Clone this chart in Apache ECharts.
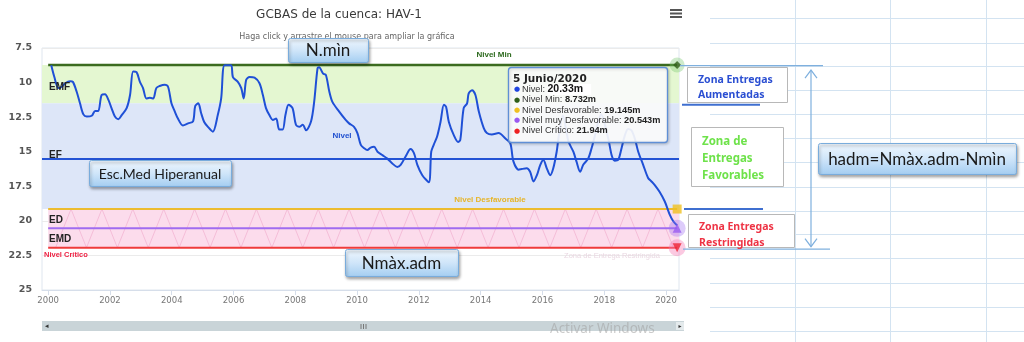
<!DOCTYPE html>
<html><head><meta charset="utf-8">
<script src="https://cdn.jsdelivr.net/npm/echarts@6/dist/echarts.min.js"></script>
<style>html,body{margin:0;padding:0;background:#fff}#c{width:1024px;height:342px}</style>
</head><body><div id="c"></div>
<script>
// ---- data ----
const nivelYears = [2000.10,2000.20,2000.33,2000.44,2000.55,2000.71,2000.80,2000.92,2001.03,2001.14,2001.25,2001.41,2001.52,2001.62,2001.73,2001.84,2001.95,
 2002.05,2002.16,2002.27,2002.38,2002.54,2002.65,2002.75,2002.86,2002.97,2003.07,2003.18,2003.29,2003.40,2003.50,2003.61,2003.77,2003.88,2003.99,
 2004.10,2004.20,2004.36,2004.53,2004.69,2004.76,2004.86,2004.95,2005.05,2005.17,2005.33,2005.49,2005.60,2005.71,2005.92,2005.98,
 2006.14,2006.25,2006.33,2006.41,2006.52,2006.68,2006.84,2006.95,2007.05,2007.16,2007.27,2007.38,2007.48,2007.59,2007.68,2007.78,2007.91,
 2008.02,2008.13,2008.24,2008.35,2008.51,2008.61,2008.72,2008.77,2008.90,2008.99,2009.10,2009.20,2009.42,2009.63,2009.74,2009.90,
 2010.01,2010.12,2010.23,2010.33,2010.44,2010.55,2010.66,2010.82,2010.98,2011.14,2011.30,2011.41,2011.57,2011.73,2011.84,2011.95,
 2012.11,2012.32,2012.40,2012.48,2012.59,2012.70,2012.81,2012.88,2012.97,2013.13,2013.27,2013.34,2013.45,2013.56,2013.61,2013.72,2013.83,2013.94,
 2014.10,2014.20,2014.36,2014.58,2014.80,2014.96,2015.06,2015.23,2015.33,2015.49,2015.60,2015.71,2015.82,2015.93,
 2016.03,2016.14,2016.25,2016.35,2016.46,2016.52,2016.66,2016.84,2017.00,2017.10,2017.22,2017.32,2017.48,2017.59,2017.68,2017.90,
 2018.13,2018.24,2018.34,2018.45,2018.56,2018.67,2018.77,2018.88,2018.99,2019.10,2019.26,2019.42,2019.53,2019.63,2019.79,2019.96,
 2020.12,2020.24,2020.36];
const nivelValues = [8.75,9.6,10.4,10.3,10.05,9.9,9.95,10.65,11.5,12.3,12.45,12.4,12.05,12.05,10.9,10.85,11.25,
 11.85,12.45,12.65,12.35,11.85,10.9,9.2,9.25,9.95,10.4,11.15,11.1,11.15,10.4,10.25,10.15,10.3,11.5,
 12.1,12.6,13.1,12.95,12.8,11.7,11.5,12.2,12.85,13.2,13.55,12.35,11.15,8.75,8.75,9.6,
 9.95,10.4,11.15,9.8,9.6,9.65,10.05,10.9,11.85,12.35,12.7,12.6,13.4,13.4,12.35,11.6,11.85,
 13.05,13.2,13.05,13.45,12.8,11.4,8.95,8.9,9.35,9.45,10.65,11.4,12.1,12.7,12.95,13.2,
 13.65,14.5,14.75,14.88,14.7,14.65,15.0,15.25,15.5,15.85,16.1,15.95,15.35,14.8,15.1,15.95,
 16.7,17.2,15.0,14.5,13.9,12.85,11.6,11.75,12.85,13.8,14.3,14.15,11.85,11.5,10.8,10.55,10.9,12.1,
 13.3,13.65,13.75,13.65,14.05,14.4,15.7,16.3,16.25,16.2,16.45,17.15,16.7,15.95,
 15.6,16.2,16.7,16.2,15.0,14.0,12.4,14.25,15.0,15.7,16.45,15.95,15.5,14.75,14.0,12.3,
 14.05,15.25,15.65,15.6,14.75,13.8,13.35,13.45,14.05,15.0,15.95,16.9,17.15,17.4,17.9,18.6,
 19.55,20.05,20.33];

const nivelMin = 8.732;
const limiteEMF = 11.5;
const nivelEF = 15.5;
const nivelDesfavorable = 19.145;
const nivelMuyDesfavorable = 20.543;
const nivelCritico = 21.94;
const lineStartYear = 2000.0;
const lineEndYear = 2020.36;
const xMinYear = 1999.8;
const xMaxYear = 2020.42;
const xTickYears = [2000,2002,2004,2006,2008,2010,2012,2014,2016,2018,2020];

const zigYears = [2000.24,2000.74,2001.24,2001.74,2002.24,2002.74,2003.24,2003.74,2004.24,2004.74,2005.24,2005.74,2006.24,2006.74,
 2007.24,2007.74,2008.24,2008.74,2009.24,2009.74,2010.24,2010.74,2011.24,2011.74,2012.24,2012.74,2013.24,2013.74,
 2014.24,2014.74,2015.24,2015.74,2016.24,2016.74,2017.24,2017.74,2018.24,2018.74,2019.24,2019.74,2020.24];
const zigLevels = [21.94,19.145,21.94,19.145,21.94,19.145,21.94,19.145,21.94,19.145,21.94,19.145,21.94,19.145,
 21.94,19.145,21.94,19.145,21.94,19.145,21.94,19.145,21.94,19.145,21.94,19.145,21.94,19.145,
 21.94,19.145,21.94,19.145,21.94,19.145,21.94,19.145,21.94,19.145,21.94,19.145,21.94];

// ---- chart ----
const zip = (a, b) => a.map((v, i) => [v, b[i]]);
const flat = (lvl) => [[lineStartYear, lvl], [lineEndYear, lvl]];

const chart = echarts.init(document.getElementById('c'), null, {renderer: 'canvas'});
const option = {
  animation: false,
  backgroundColor: '#ffffff',
  title: [
    {text: 'GCBAS de la cuenca: HAV-1', left: 334, top: 4, textAlign: 'center',
     textStyle: {fontFamily: 'DejaVu Sans', fontSize: 12, fontWeight: 'normal', color: '#3a3a3a'}},
    {text: 'Haga click y arrastre el mouse para ampliar la gráfica', left: 342, top: 28, textAlign: 'center',
     textStyle: {fontFamily: 'DejaVu Sans', fontSize: 8, fontWeight: 'normal', color: '#666'}}
  ],
  grid: {left: 42, top: 48, width: 637, height: 242, show: true, borderColor: '#dfe6ef', borderWidth: 1, backgroundColor: '#fff'},
  xAxis: {
    type: 'value', min: xMinYear, max: xMaxYear,
    splitLine: {show: false},
    axisLine: {lineStyle: {color: '#d6deea'}},
    axisTick: {show: true, length: 5, lineStyle: {color: '#d6deea'}, customValues: xTickYears},
    axisLabel: {customValues: xTickYears, formatter: v => String(Math.round(v)), fontFamily: 'DejaVu Sans', fontSize: 8.5, color: '#777', margin: 6}
  },
  yAxis: {
    type: 'value', inverse: true, min: 7.5, max: 25, interval: 2.5,
    axisLine: {show: false}, axisTick: {show: false},
    splitLine: {lineStyle: {color: '#ebebeb'}},
    axisLabel: {fontFamily: 'DejaVu Sans', fontSize: 9.5, fontWeight: 'bold', color: '#555', margin: 10}
  },
  series: [
    {name: 'bandas', type: 'line', data: [[2000, 15]], symbol: 'none', lineStyle: {width: 0}, z: 1, silent: true,
     markArea: {silent: true, data: [
       [{yAxis: nivelMin, itemStyle: {color: '#e4f7d1'}}, {yAxis: limiteEMF}],
       [{yAxis: limiteEMF, itemStyle: {color: '#dde6f8'}}, {yAxis: nivelDesfavorable}],
       [{xAxis: lineStartYear, yAxis: nivelDesfavorable, itemStyle: {color: '#fcdcec'}}, {xAxis: xMaxYear, yAxis: nivelCritico}]
     ]},
     markLine: {silent: true, symbol: 'none', label: {show: false}, data: [{yAxis: nivelEF}],
       lineStyle: {color: '#2453d4', width: 2, type: 'solid'}}
    },
    {name: 'Zona de Entrega Restringida', type: 'line', data: zip(zigYears, zigLevels), symbol: 'none', z: 2,
     lineStyle: {color: 'rgba(236,150,190,0.45)', width: 1}},
    {name: 'Nivel Min', type: 'line', data: flat(nivelMin), symbol: 'none', z: 3, lineStyle: {color: '#3b6b1f', width: 2.5}},
    {name: 'Nivel Desfavorable', type: 'line', data: flat(nivelDesfavorable), symbol: 'none', z: 3, lineStyle: {color: '#ecbc30', width: 2}},
    {name: 'Nivel muy Desfavorable', type: 'line', data: flat(nivelMuyDesfavorable), symbol: 'none', z: 3, lineStyle: {color: '#a06cf0', width: 2}},
    {name: 'Nivel Crítico', type: 'line', data: flat(nivelCritico), symbol: 'none', z: 3, lineStyle: {color: '#ef3b3b', width: 2}},
    {name: 'Nivel', type: 'line', data: zip(nivelYears, nivelValues), symbol: 'none', smooth: 0.3, z: 5,
     lineStyle: {color: '#1f50d6', width: 2}},
    {name: 'halos', type: 'scatter', z: 6, silent: true, data: [
      {value: [lineEndYear, nivelMin], symbol: 'circle', symbolSize: 15, itemStyle: {color: 'rgba(120,200,110,0.45)'}},
      {value: [lineEndYear, nivelMuyDesfavorable], symbol: 'circle', symbolSize: 17, itemStyle: {color: 'rgba(160,110,240,0.45)'}},
      {value: [lineEndYear, nivelCritico], symbol: 'circle', symbolSize: 17, itemStyle: {color: 'rgba(245,120,180,0.5)'}}
    ]},
    {name: 'marcadores', type: 'scatter', z: 7, silent: true, data: [
      {value: [lineEndYear, nivelMin], symbol: 'diamond', symbolSize: 8, itemStyle: {color: '#2f5e18'}},
      {value: [lineEndYear, nivelDesfavorable], symbol: 'rect', symbolSize: 9, itemStyle: {color: '#f0c020'}},
      {value: [lineEndYear, nivelMuyDesfavorable], symbol: 'triangle', symbolSize: 9, itemStyle: {color: '#9a5cf0'}},
      {value: [lineEndYear, nivelCritico], symbol: 'triangle', symbolRotate: 180, symbolSize: 9, itemStyle: {color: '#ee2233'}}
    ]}
  ]
};
chart.setOption(option);

// ---- overlays / annotations ----
const P = (x, y) => chart.convertToPixel({gridIndex: 0}, [x, y]);
const yMinPx = P(2000, nivelMin)[1];
const yEmfPx = P(2000, limiteEMF)[1];
const yDesPx = P(2000, nivelDesfavorable)[1];
const yCriPx = P(2000, nivelCritico)[1];
const plotRight = P(xMaxYear, 15)[0];

const g = [];
const T = (x, y, text, font, fill, align, extra) => g.push(Object.assign({type: 'text', x, y, z: 50,
  style: {text, font, fill, textAlign: align || 'left', textVerticalAlign: 'middle'}}, extra || {}));
const L = (x1, y1, x2, y2, stroke, w, z) => g.push({type: 'line', z: z || 40, shape: {x1, y1, x2, y2}, style: {stroke, lineWidth: w}});

// spreadsheet background grid on the right
[18,43,66,90,114,138,162,187,211,234,258,283,307,331].forEach(y => L(710, y + 0.5, 1024, y + 0.5, '#d3e3f1', 1, 1));
[795, 890, 986].forEach(x => L(x + 0.5, 0, x + 0.5, 342, '#d3e3f1', 1, 1));

// menu icon
[10, 13.5, 17].forEach(y => g.push({type: 'rect', z: 50, shape: {x: 670, y: y - 1, width: 12, height: 2}, style: {fill: '#555'}}));

// in-chart labels
T(49, 87, 'EMF', 'bold 10px "Liberation Sans"', '#222');
T(49, 155, 'EF', 'bold 10px "Liberation Sans"', '#222');
T(49, 220, 'ED', 'bold 10px "Liberation Sans"', '#222');
T(49, 239, 'EMD', 'bold 10px "Liberation Sans"', '#222');
T(44, 255, 'Nivel Crítico', 'bold 7.5px "Liberation Sans"', '#ee2244');
T(494, 55, 'Nivel Min', 'bold 8px "Liberation Sans"', '#2d6a1e', 'center');
T(490, 200, 'Nivel Desfavorable', 'bold 8px "Liberation Sans"', '#e6b52a', 'center');
T(342, 136, 'Nivel', 'bold 8px "Liberation Sans"', '#2050d0', 'center');
T(612, 256, 'Zona de Entrega Restringida', '7.5px "Liberation Sans"', '#ead8e2', 'center');

// tooltip box
g.push({type: 'rect', z: 60, shape: {x: 508.5, y: 67.5, width: 159, height: 75, r: 3},
  style: {fill: 'rgba(255,255,255,0.9)', stroke: '#5f8fd6', lineWidth: 1.3, shadowBlur: 3, shadowColor: 'rgba(0,0,0,0.2)', shadowOffsetX: 1, shadowOffsetY: 1}});
T(513, 79, '5 Junio/2020', 'bold 10.5px "DejaVu Sans"', '#222', 'left', {z: 61});
const rows = [
  ['#1f44e0', 'Nivel: ', '20.33m', true],
  ['#2e5e1a', 'Nivel Min: ', '8.732m'],
  ['#f0c020', 'Nivel Desfavorable: ', '19.145m'],
  ['#9b59f0', 'Nivel muy Desfavorable: ', '20.543m'],
  ['#ee2222', 'Nivel Crítico: ', '21.94m']
];
rows.forEach((r, i) => {
  const y = 89.5 + i * 10.3;
  T(514, y, '●', '7px "DejaVu Sans"', r[0], 'left', {z: 61});
  g.push({type: 'text', x: 522, y, z: 61, style: {
    text: '{l|' + r[1] + '}{v|' + r[2] + '}', textVerticalAlign: 'middle',
    rich: {
      l: {font: '9.2px "Liberation Sans"', fill: '#333'},
      v: r[3] ? {font: 'bold 10.5px "Liberation Sans"', fill: '#111', backgroundColor: '#fff', padding: [0, 8, 0, 0]}
              : {font: 'bold 9.2px "Liberation Sans"', fill: '#222'}
    }}});
});

// scrollbar + watermark
g.push({type: 'rect', z: 40, shape: {x: 42, y: 321, width: 642, height: 10}, style: {fill: '#c9d4d8'}});
T(45, 326, '◂', '7px "DejaVu Sans"', '#333');
g.push({type: 'rect', z: 41, shape: {x: 676, y: 322, width: 8, height: 8}, style: {fill: '#e4eaec'}});
T(680, 326, '▸', '6px "DejaVu Sans"', '#333', 'center');
[361, 363.5, 366].forEach(x => L(x, 324, x, 329, '#777', 1, 41));
T(550, 329, 'Activar Windows', '13.5px "Noto Sans"', 'rgba(160,160,160,0.55)');

// gradient annotation boxes
const blueBox = (x, y, w, h, text, fs) => {
  g.push({type: 'rect', z: 70, shape: {x: x + 0.5, y: y + 0.5, width: w, height: h, r: 2},
    style: {fill: new echarts.graphic.LinearGradient(0, 0, 0, 1, [{offset: 0, color: '#f0f7fe'}, {offset: 0.5, color: '#cfe5f9'}, {offset: 1, color: '#a3cdf1'}]),
      stroke: '#79acdc', lineWidth: 1, shadowBlur: 3, shadowOffsetY: 2, shadowOffsetX: 1, shadowColor: 'rgba(0,0,0,0.35)'}});
  T(x + w / 2, y + h / 2 + 1, text, fs + 'px Lato', '#1a1a1a', 'center', {z: 71});
};
blueBox(288, 38, 80, 24, 'N.mìn', 17);
blueBox(89, 160, 142, 26, 'Esc.Med Hiperanual', 14);
blueBox(345, 249, 113, 27, 'Nmàx.adm', 17);
blueBox(818, 143, 198, 31, 'hadm=Nmàx.adm-Nmìn', 17);

// white zone boxes
const zoneBox = (x, y, w, h) => g.push({type: 'rect', z: 70, shape: {x: x + 0.5, y: y + 0.5, width: w, height: h}, style: {fill: '#fff', stroke: '#b8b8b8', lineWidth: 1}});
const zf = (s) => 'bold ' + s + 'px "Noto Sans"';
zoneBox(687, 67, 100, 35);
T(698, 80, 'Zona Entregas', zf(10.5), '#2b4fd2', 'left', {z: 71});
T(698, 95, 'Aumentadas', zf(10.5), '#2b4fd2', 'left', {z: 71});
zoneBox(691, 127, 92, 59);
T(702, 142, 'Zona de', zf(11.5), '#6ee24a', 'left', {z: 71});
T(702, 159, 'Entregas', zf(11.5), '#6ee24a', 'left', {z: 71});
T(702, 176, 'Favorables', zf(11.5), '#6ee24a', 'left', {z: 71});
zoneBox(688, 214, 106, 33);
T(699, 227, 'Zona Entregas', zf(10.5), '#ee3344', 'left', {z: 71});
T(699, 243, 'Restringidas', zf(10.5), '#ee3344', 'left', {z: 71});

// annotation lines and the hadm double arrow
L(plotRight + 1, yMinPx + 0.5, 823, yMinPx + 0.5, '#7fb0de', 1.2, 65);
L(682, yEmfPx + 1.5, 760, yEmfPx + 1.5, '#3f6fd0', 2, 65);
L(684, yDesPx, 763, yDesPx, '#3f6fd0', 2, 65);
L(683, yCriPx + 1.5, 830, yCriPx + 1.5, '#7fb0de', 1.2, 65);
const ax = 811;
L(ax, yMinPx + 5, ax, yCriPx - 1, '#7fb0de', 1.2, 65);
g.push({type: 'polyline', z: 65, shape: {points: [[ax - 6, yMinPx + 13], [ax, yMinPx + 5], [ax + 6, yMinPx + 13]]}, style: {stroke: '#7fb0de', lineWidth: 1.2, fill: null}});
g.push({type: 'polyline', z: 65, shape: {points: [[ax - 6, yCriPx - 9], [ax, yCriPx - 1], [ax + 6, yCriPx - 9]]}, style: {stroke: '#7fb0de', lineWidth: 1.2, fill: null}});

chart.setOption({graphic: g});
</script></body></html>
